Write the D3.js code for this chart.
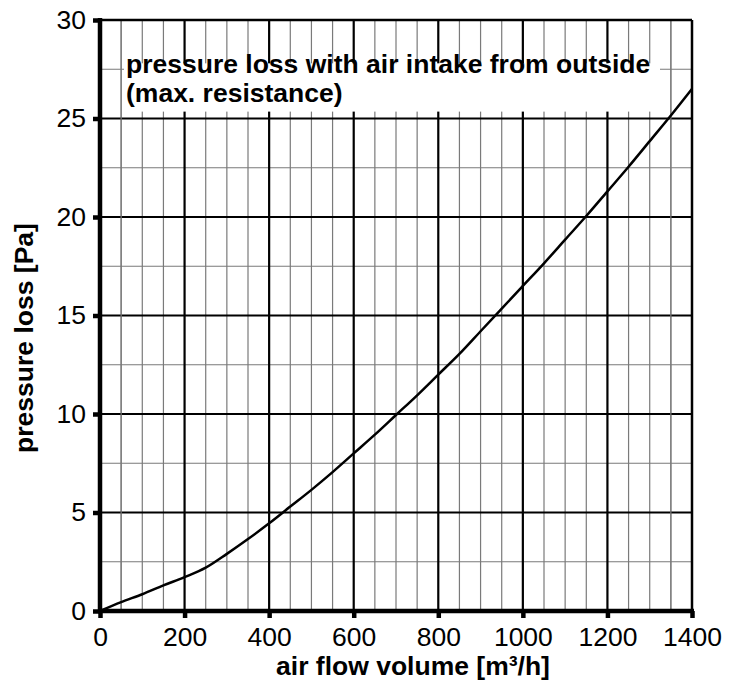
<!DOCTYPE html>
<html><head><meta charset="utf-8">
<script src="https://cdn.jsdelivr.net/npm/d3@7"></script>
<style>body{margin:0;background:#fff}svg{display:block}text{font-family:"Liberation Sans",Arial,sans-serif}</style>
</head><body><svg id="c" width="736" height="687"></svg>
<script>
const flow = [0,50,100,150,200,250,300,350,400,450,500,550,600,650,700,750,800,850,900,950,1000,1050,1100,1150,1200,1250,1300,1350,1400];
const loss = [0,0.45,0.85,1.3,1.72,2.2,2.9,3.65,4.45,5.3,6.15,7.05,8.0,8.95,9.95,10.95,12.0,13.05,14.2,15.35,16.5,17.65,18.85,20.05,21.3,22.55,23.85,25.15,26.5];
const xTicks = [0,200,400,600,800,1000,1200,1400];
const yTicks = [0,5,10,15,20,25,30];
const xTitle = "air flow volume [m³/h]";
const yTitle = "pressure loss [Pa]";
const legendLines = ["pressure loss with air intake from outside","(max. resistance)"];

const FS = 26.5;
const svg = d3.select("#c");
const L=100,R=692,T=20,B=611;
const x = d3.scaleLinear().domain([0,1400]).range([L,R]);
const y = d3.scaleLinear().domain([0,30]).range([B,T]);

// minor grid
const g = svg.append("g");
g.selectAll(".vmin").data(d3.range(50,1400,50).filter(v=>v%200)).join("line")
 .attr("x1",d=>x(d)).attr("x2",d=>x(d)).attr("y1",T).attr("y2",B).attr("stroke","#7a7a7a").attr("stroke-width",1.2);
g.selectAll(".hmin").data(d3.range(2.5,30,5)).join("line")
 .attr("x1",L).attr("x2",R).attr("y1",d=>y(d)).attr("y2",d=>y(d)).attr("stroke","#7a7a7a").attr("stroke-width",1.2);
// major grid
g.selectAll(".vmaj").data(xTicks.slice(1,-1)).join("line")
 .attr("x1",d=>x(d)).attr("x2",d=>x(d)).attr("y1",T).attr("y2",B).attr("stroke","#000").attr("stroke-width",2.2);
g.selectAll(".hmaj").data(yTicks.slice(1,-1)).join("line")
 .attr("x1",L).attr("x2",R).attr("y1",d=>y(d)).attr("y2",d=>y(d)).attr("stroke","#000").attr("stroke-width",2.2);

// legend box (white background over grid)
svg.append("rect").attr("x",124).attr("y",y(27.8)).attr("width",536).attr("height",y(25.35)-y(27.8)).attr("fill","#fff");
svg.selectAll(".thru").data([50,1350]).join("line")
 .attr("x1",d=>x(d)).attr("x2",d=>x(d)).attr("y1",T).attr("y2",B).attr("stroke","#7a7a7a").attr("stroke-width",1.2);

// border
svg.append("line").attr("x1",L).attr("x2",R).attr("y1",T).attr("y2",T).attr("stroke","#000").attr("stroke-width",2.5);
svg.append("line").attr("x1",R).attr("x2",R).attr("y1",T).attr("y2",B).attr("stroke","#000").attr("stroke-width",2.5);

// curve
svg.append("path").datum(flow.map((f,i)=>[f,loss[i]]))
 .attr("d",d3.line().x(d=>x(d[0])).y(d=>y(d[1])).curve(d3.curveMonotoneX))
 .attr("fill","none").attr("stroke","#000").attr("stroke-width",2.5);

// axes
const xa = svg.append("g").attr("transform",`translate(0,${B})`)
 .call(d3.axisBottom(x).tickValues(xTicks).tickSize(7).tickPadding(9).tickFormat(d3.format("d")));
const ya = svg.append("g").attr("transform",`translate(${L},0)`)
 .call(d3.axisLeft(y).tickValues(yTicks).tickSize(7).tickPadding(7).tickFormat(d3.format("d")));
[xa,ya].forEach(a=>{
  a.select(".domain").remove();
  a.selectAll(".tick line").attr("stroke","#000").attr("stroke-width",4.5);
  a.selectAll("text").attr("font-size",FS).attr("fill","#000").attr("font-family","'Liberation Sans',Arial,sans-serif");
});
svg.append("line").attr("x1",L).attr("x2",L).attr("y1",T-2).attr("y2",B+2).attr("stroke","#000").attr("stroke-width",4.5);
svg.append("line").attr("x1",L-2).attr("x2",R+2).attr("y1",B).attr("y2",B).attr("stroke","#000").attr("stroke-width",4.5);

// legend text
svg.selectAll(".lt").data(legendLines).join("text")
 .attr("x",126).attr("y",(d,i)=>73+i*29).attr("font-size",FS).attr("font-weight","bold").attr("fill","#000").text(d=>d);

// titles
svg.append("text").attr("x",413).attr("y",675).attr("text-anchor","middle")
 .attr("font-size",FS).attr("font-weight","bold").text(xTitle);
svg.append("text").attr("transform","translate(33,338) rotate(-90)").attr("text-anchor","middle")
 .attr("font-size",FS).attr("font-weight","bold").text(yTitle);
</script></body></html>
